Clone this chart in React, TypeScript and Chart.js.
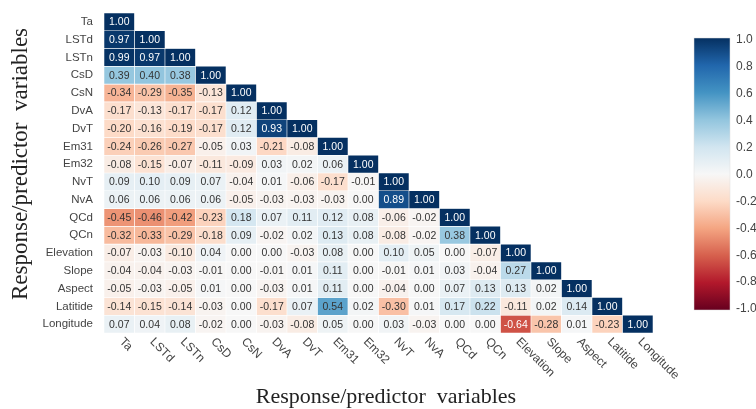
import React, { useEffect, useRef } from "react";
import { Chart, registerables } from "chart.js";

Chart.register(...registerables);

const VARS = ["Ta", "LSTd", "LSTn", "CsD", "CsN", "DvA", "DvT", "Em31", "Em32", "NvT", "NvA", "QCd", "QCn", "Elevation", "Slope", "Aspect", "Latitide", "Longitude"];

const rTa = [1.0];
const rLSTd = [0.97, 1.0];
const rLSTn = [0.99, 0.97, 1.0];
const rCsD = [0.39, 0.4, 0.38, 1.0];
const rCsN = [-0.34, -0.29, -0.35, -0.13, 1.0];
const rDvA = [-0.17, -0.13, -0.17, -0.17, 0.12, 1.0];
const rDvT = [-0.2, -0.16, -0.19, -0.17, 0.12, 0.93, 1.0];
const rEm31 = [-0.24, -0.26, -0.27, -0.05, 0.03, -0.21, -0.08, 1.0];
const rEm32 = [-0.08, -0.15, -0.07, -0.11, -0.09, 0.03, 0.02, 0.06, 1.0];
const rNvT = [0.09, 0.1, 0.09, 0.07, -0.04, 0.01, -0.06, -0.17, -0.01, 1.0];
const rNvA = [0.06, 0.06, 0.06, 0.06, -0.05, -0.03, -0.03, -0.03, 0.0, 0.89, 1.0];
const rQCd = [-0.45, -0.46, -0.42, -0.23, 0.18, 0.07, 0.11, 0.12, 0.08, -0.06, -0.02, 1.0];
const rQCn = [-0.32, -0.33, -0.29, -0.18, 0.09, -0.02, 0.02, 0.13, 0.08, -0.08, -0.02, 0.38, 1.0];
const rElevation = [-0.07, -0.03, -0.1, 0.04, 0.0, 0.0, -0.03, 0.08, 0.0, 0.1, 0.05, 0.0, -0.07, 1.0];
const rSlope = [-0.04, -0.04, -0.03, -0.01, 0.0, -0.01, 0.01, 0.11, 0.0, -0.01, 0.01, 0.03, -0.04, 0.27, 1.0];
const rAspect = [-0.05, -0.03, -0.05, 0.01, 0.0, -0.03, 0.01, 0.11, 0.0, -0.04, 0.0, 0.07, 0.13, 0.13, 0.02, 1.0];
const rLatitide = [-0.14, -0.15, -0.14, -0.03, 0.0, -0.17, 0.07, 0.54, 0.02, -0.3, 0.01, 0.17, 0.22, -0.11, 0.02, 0.14, 1.0];
const rLongitude = [0.07, 0.04, 0.08, -0.02, 0.0, -0.03, -0.08, 0.05, 0.0, 0.03, -0.03, 0.0, 0.0, -0.64, -0.28, 0.01, -0.23, 1.0];

const ROWS = [rTa, rLSTd, rLSTn, rCsD, rCsN, rDvA, rDvT, rEm31, rEm32, rNvT, rNvA, rQCd, rQCn, rElevation, rSlope, rAspect, rLatitide, rLongitude];

const CBAR_TICKS = ["1.0", "0.8", "0.6", "0.4", "0.2", "0.0", "-0.2", "-0.4", "-0.6", "-0.8", "-1.0"];

const AXIS_TITLE = "Response/predictor  variables";

// RdBu colormap stops from -1 to 1
const RDBU = ["#67001f", "#b2182b", "#d6604d", "#f4a582", "#fddbc7", "#f7f7f7", "#d1e5f0", "#92c5de", "#4393c3", "#2166ac", "#053061"];

function hexToRgb(h: string) {
  const n = parseInt(h.slice(1), 16);
  return [(n >> 16) & 255, (n >> 8) & 255, n & 255];
}

function colorFor(v: number) {
  const t = ((v + 1) / 2) * (RDBU.length - 1);
  const i = Math.max(0, Math.min(RDBU.length - 2, Math.floor(t)));
  const f = t - i;
  const a = hexToRgb(RDBU[i]);
  const b = hexToRgb(RDBU[i + 1]);
  const c = a.map((x, k) => Math.round(x + (b[k] - x) * f));
  return `rgb(${c[0]},${c[1]},${c[2]})`;
}

const SANS = "'Liberation Sans', Arial, sans-serif";
const SERIF = "'Liberation Serif', 'Times New Roman', serif";

export default function App() {
  const ref = useRef<HTMLCanvasElement>(null);

  useEffect(() => {
    if (!ref.current) return;

    const datasets = ROWS.map((row, r) => ({
      label: VARS[r],
      data: VARS.map((_, j) => (j < row.length ? [r, r + 1] : null)),
      backgroundColor: VARS.map((_, j) => (j < row.length ? colorFor(row[j]) : "rgba(0,0,0,0)")),
      borderColor: "#ffffff",
      borderWidth: 0.6,
      borderSkipped: false,
      barPercentage: 1,
      categoryPercentage: 1,
      grouped: false,
    }));

    const overlay = {
      id: "overlay",
      afterDatasetsDraw(chart: any) {
        const ctx = chart.ctx;
        ctx.save();
        ctx.font = `10.5px ${SANS}`;
        ctx.textAlign = "center";
        ctx.textBaseline = "middle";
        chart.data.datasets.forEach((ds: any, r: number) => {
          const meta = chart.getDatasetMeta(r);
          const row = ROWS[r];
          meta.data.forEach((el: any, j: number) => {
            if (j >= row.length) return;
            const v = row[j];
            ctx.fillStyle = Math.abs(v) >= 0.6 ? "#ffffff" : "#333333";
            ctx.fillText(v.toFixed(2), el.x, (el.y + el.base) / 2 + 0.5);
          });
        });
        ctx.restore();
      },
      afterDraw(chart: any) {
        const ctx = chart.ctx;
        const xs = chart.scales.x;
        const area = chart.chartArea;
        ctx.save();
        // x tick labels rotated
        ctx.font = `12px ${SANS}`;
        ctx.fillStyle = "#444444";
        ctx.textAlign = "left";
        ctx.textBaseline = "middle";
        VARS.forEach((name, i) => {
          const x = xs.getPixelForValue(i);
          ctx.save();
          ctx.translate(x + 2, area.bottom + 7);
          ctx.rotate(Math.PI / 4);
          ctx.fillText(name, 0, 0);
          ctx.restore();
        });
        // axis titles
        ctx.fillStyle = "#222222";
        ctx.font = `22px ${SERIF}`;
        ctx.textAlign = "center";
        ctx.textBaseline = "alphabetic";
        ctx.fillText(AXIS_TITLE, 386, 403);
        ctx.save();
        ctx.translate(27, 164);
        ctx.rotate(-Math.PI / 2);
        ctx.font = `23px ${SERIF}`;
        ctx.fillText(AXIS_TITLE, 0, 0);
        ctx.restore();
        // colorbar
        const cx = 694, cw = 36, cTop = 38, cBot = 310;
        const g = ctx.createLinearGradient(0, cTop, 0, cBot);
        RDBU.forEach((c, k) => g.addColorStop(1 - k / (RDBU.length - 1), c));
        ctx.fillStyle = g;
        ctx.fillRect(cx, cTop, cw, cBot - cTop);
        ctx.strokeStyle = "#dddddd";
        ctx.lineWidth = 0.5;
        ctx.strokeRect(cx, cTop, cw, cBot - cTop);
        ctx.font = `12px ${SANS}`;
        ctx.fillStyle = "#444444";
        ctx.textAlign = "left";
        ctx.textBaseline = "middle";
        CBAR_TICKS.forEach((t, k) => {
          const y = 40 + (k * (309 - 40)) / (CBAR_TICKS.length - 1);
          ctx.fillText(t, 736, y);
        });
        ctx.restore();
      },
    };

    const chart = new Chart(ref.current, {
      type: "bar",
      data: { labels: VARS, datasets: datasets as any },
      options: {
        animation: false,
        responsive: false,
        maintainAspectRatio: false,
        layout: { padding: { left: 0, top: 13, right: 103, bottom: 0 } },
        plugins: { legend: { display: false }, tooltip: { enabled: false } },
        scales: {
          x: {
            type: "category",
            offset: true,
            grid: { display: false },
            border: { display: false },
            ticks: { display: false },
            afterFit(s: any) {
              s.height = 76;
            },
          },
          y: {
            type: "linear",
            min: 0,
            max: 18,
            reverse: true,
            grid: { display: false },
            border: { display: false },
            afterBuildTicks(axis: any) {
              axis.ticks = VARS.map((_, i) => ({ value: i + 0.5 }));
            },
            ticks: {
              autoSkip: false,
              padding: 3,
              color: "#444444",
              font: { family: SANS, size: 11.5 },
              callback: (_v: any, i: number) => VARS[i],
            },
            afterFit(s: any) {
              s.width = 104;
            },
          },
        },
      } as any,
      plugins: [overlay],
    });
    return () => chart.destroy();
  }, []);

  return (
    <div style={{ position: "fixed", left: 0, top: 0, width: 756, height: 409, background: "#ffffff" }}>
      <canvas ref={ref} width={756} height={409} style={{ width: 756, height: 409, display: "block" }} />
    </div>
  );
}
